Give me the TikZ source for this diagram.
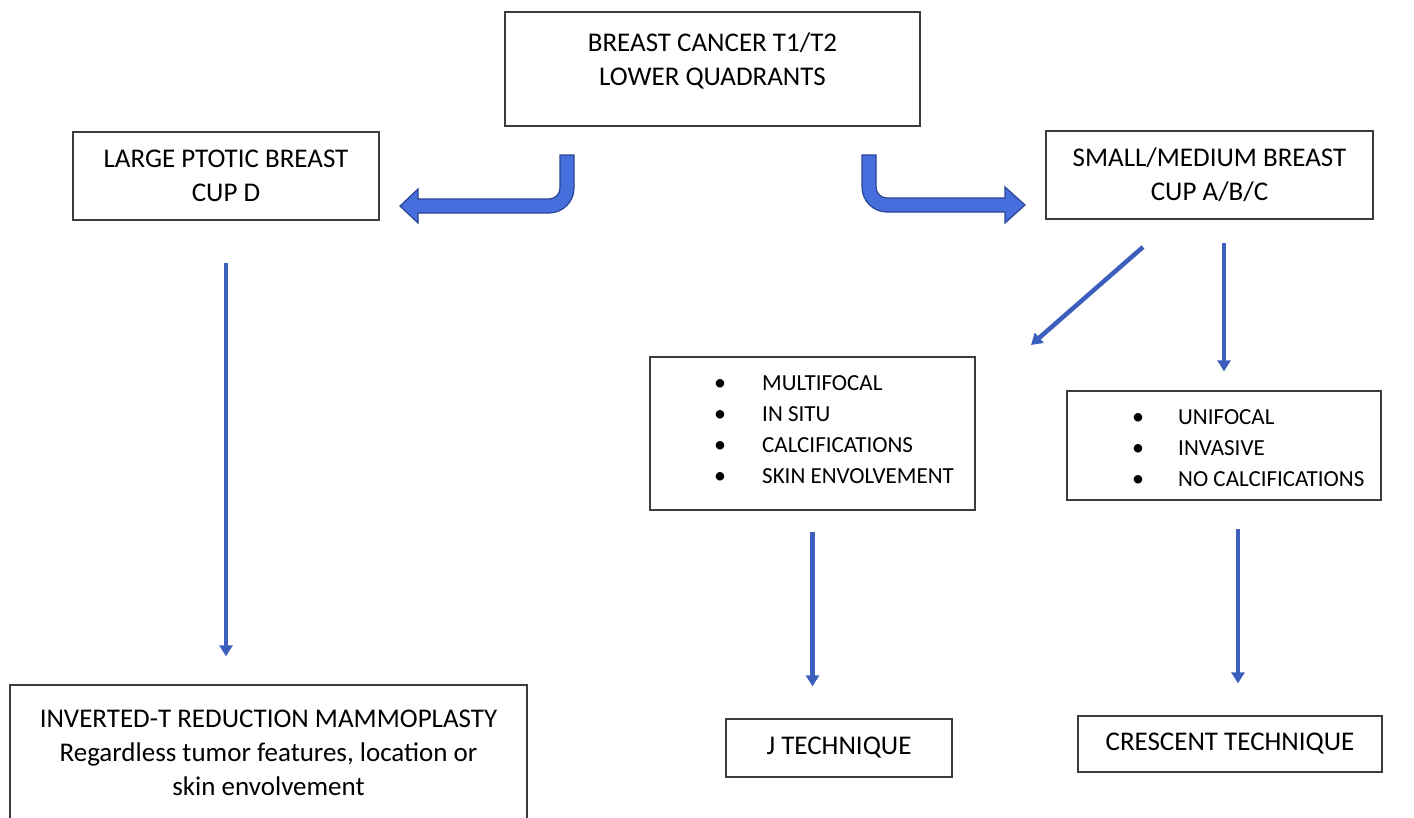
\documentclass[tikz,border=0pt]{standalone}
\usepackage{fontspec}
\setmainfont{Carlito}
\usetikzlibrary{arrows.meta}
\definecolor{boxline}{RGB}{60,60,60}
\definecolor{bigfill}{RGB}{70,110,220}
\definecolor{bigline}{RGB}{40,70,150}
\definecolor{thinblue}{RGB}{60,95,190}
\tikzset{
  box/.style={draw=boxline, line width=1.3pt, inner sep=0pt, align=center, font=\fontsize{27}{34}\selectfont},
  listtext/.style={inner sep=0pt, anchor=west, font=\fontsize{23}{31}\selectfont},
  thinarrow/.style={draw=thinblue, line width=4.5pt, -{Triangle[width=13pt,length=11pt]}},
  bigarrow/.style={fill=bigfill, draw=bigline, line width=1.2pt, line join=miter}
}
\newcommand{\bul}{\makebox[12pt][c]{\fontsize{24}{24}\selectfont •}}
\begin{document}
\begin{tikzpicture}[x=1pt,y=-1pt]
\useasboundingbox (0,0) rectangle (1414,817);
\clip (0,0) rectangle (1414,817);
\fill[white] (0,0) rectangle (1414,817);
% boxes
\node[box, minimum width=415pt, minimum height=114pt] (top) at (712.5,69) {BREAST CANCER T1/T2\\LOWER QUADRANTS\rule[-19pt]{0pt}{0pt}};
\node[box, minimum width=306pt, minimum height=88pt] (ptotic) at (226,176) {LARGE PTOTIC BREAST\\CUP D};
\node[box, minimum width=327pt, minimum height=88pt] (small) at (1209.5,175) {SMALL/MEDIUM BREAST\\CUP A/B/C};
\node[box, minimum width=325pt, minimum height=153pt] (multi) at (812.5,433.5) {};
\node[listtext] (multitxt) at (714,431) {\begin{tabular}{@{}l@{\hspace{36pt}}l@{}}\bul&MULTIFOCAL\\\bul&IN SITU\\\bul&CALCIFICATIONS\\\bul&SKIN ENVOLVEMENT\end{tabular}};
\node[box, minimum width=314pt, minimum height=109pt] (uni) at (1224,445.5) {};
\node[listtext] (unitxt) at (1132,449) {\begin{tabular}{@{}l@{\hspace{34pt}}l@{}}\bul&UNIFOCAL\\\bul&INVASIVE\\\bul&NO CALCIFICATIONS\end{tabular}};
\node[box, minimum width=517pt, minimum height=135pt] (invt) at (268.5,752.5) {INVERTED-T REDUCTION MAMMOPLASTY\\Regardless tumor features, location or\\skin envolvement};
\node[box, minimum width=226pt, minimum height=58pt] (jtech) at (839,748) {J TECHNIQUE};
\node[box, minimum width=304pt, minimum height=56pt] (cres) at (1230,744) {CRESCENT TECHNIQUE};
% big curved arrows
\draw[bigarrow] (560,155) -- (574,155) -- (574,188) .. controls (574,201.8) and (562.8,213) .. (549,213) -- (418,213) -- (418,223) -- (400,206) -- (418,189) -- (418,199) -- (549,199) .. controls (555.1,199) and (560,194.1) .. (560,188) -- cycle;
\draw[bigarrow] (862,155) -- (876,155) -- (876,187) .. controls (876,193.1) and (880.9,198) .. (887,198) -- (1005,198) -- (1005,187) -- (1025,205) -- (1005,223) -- (1005,212) -- (887,212) .. controls (873.2,212) and (862,200.8) .. (862,187) -- cycle;
% thin arrows
\draw[thinarrow, shorten <=42pt, shorten >=28pt] (ptotic.south) -- (ptotic.south |- invt.north);
\draw[thinarrow, shorten <=21pt, shorten >=32pt] (multi.south) -- (multi.south |- jtech.north);
\coordinate (ua) at ([xshift=14pt]uni.south);
\draw[thinarrow, shorten <=28pt, shorten >=32pt] (ua) -- (ua |- cres.north);
\draw[thinarrow, shorten <=23pt, shorten >=19pt] (small.south -| uni.north) -- (uni.north);
\coordinate (d1) at (1143,247);
\coordinate (d2) at (1031,345);
\draw[thinarrow] (d1) -- (d2);
\end{tikzpicture}
\end{document}
